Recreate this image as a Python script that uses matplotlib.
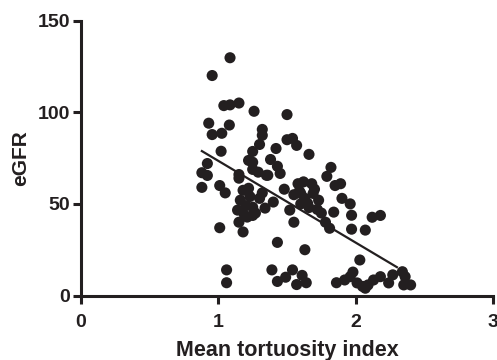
import matplotlib
matplotlib.use("Agg")
import matplotlib.pyplot as plt

tortuosity = [
    1.085, 0.955, 1.04, 1.085, 1.15, 0.93, 1.08, 0.955, 1.025, 1.02, 0.92, 0.88,
    1.26, 1.50, 1.32, 1.32, 1.30, 1.42, 1.25, 1.50, 1.54, 1.57, 1.66, 1.22, 1.38,
    1.43, 1.45, 1.82, 1.79, 1.25, 1.15, 1.35,
    0.92, 0.88, 1.05, 1.01, 1.06, 1.06, 1.15, 1.18, 1.22, 1.16, 1.14, 1.15, 1.18,
    1.21, 1.25, 1.30, 1.34, 1.40, 1.25, 1.36, 1.25, 1.29, 1.43, 1.39, 1.43, 1.49,
    1.54, 1.57, 1.61, 1.64, 1.63, 1.52, 1.55, 1.58, 1.62, 1.68, 1.60, 1.63, 1.65,
    1.69, 1.73, 1.75, 1.78, 1.81, 1.84, 1.85, 1.89, 1.90, 1.96, 1.97, 1.97, 2.07,
    2.12, 2.18, 2.03, 1.98, 1.86, 1.92, 1.96, 2.01, 2.05, 2.09, 2.13, 2.18, 2.24,
    2.27, 2.34, 2.36, 2.35, 2.40, 2.07,
    1.59, 1.60, 1.66, 1.70, 1.72, 1.55, 1.20, 1.27, 1.32, 1.19, 1.23, 1.48, 1.01,
]
egfr = [
    129.7, 120, 103.6, 104, 105, 94, 93, 87.8, 88.5, 78.7, 72, 67,
    100.5, 98.7, 90.6, 87.4, 82.4, 80.2, 78.6, 85, 85.7, 81.9, 77, 73.7, 74.2,
    70.5, 66.6, 69.9, 65, 68.8, 66, 65.6,
    65.5, 59, 56, 37, 14, 7, 64, 57.4, 58.5, 52, 46.6, 40, 34.7,
    42.8, 48.2, 53, 47.7, 51, 43.7, 65.6, 72.7, 67.3, 29, 14, 7.7, 10,
    14, 6, 11, 7, 25, 46.6, 40, 61, 62, 61, 55.7, 53, 50.3,
    55.7, 52, 45, 40, 36.7, 45.5, 60, 61, 53, 50, 43.8, 36.2, 35.7,
    42.7, 43.7, 19.4, 12.8, 7, 8.5, 10.3, 6.9, 5, 5.8, 8.5, 10.3, 6.9,
    11.3, 13, 10.3, 5.8, 5.8, 4,
    57, 50, 48, 58, 47, 55, 49, 45, 56, 44, 54, 58, 60,
]

fit_x = [0.88, 2.30]
fit_y = [78.8, 15.5]

x_ticks = [0, 1, 2, 3]
y_ticks = [0, 50, 100, 150]

col = "#231f20"
plt.rcParams["font.family"] = ["Liberation Sans", "DejaVu Sans"]
plt.rcParams["font.weight"] = "bold"

fig = plt.figure(figsize=(4.97, 3.60), dpi=100)
ax = fig.add_axes([0.163, 0.179, 0.829, 0.764])
ax.scatter(tortuosity, egfr, s=64, color=col, edgecolors="none", zorder=3, clip_on=False)
ax.plot(fit_x, fit_y, color=col, lw=1.6, zorder=4)

ax.set_xlim(0, 3)
ax.set_ylim(0, 150)
ax.set_xticks(x_ticks)
ax.set_yticks(y_ticks)
ax.set_xticklabels([str(t) for t in x_ticks], fontsize=14, fontweight="bold", color=col)
ax.set_yticklabels([str(t) for t in y_ticks], fontsize=14, fontweight="bold", color=col)
for s in ["top", "right"]:
    ax.spines[s].set_visible(False)
for s in ["left", "bottom"]:
    ax.spines[s].set_linewidth(2.2)
    ax.spines[s].set_color(col)
ax.tick_params(axis="y", length=6, width=2.2, color=col, pad=2)
ax.tick_params(axis="x", length=6, width=2.2, color=col, pad=7)
ax.set_xlabel("Mean tortuosity index", fontsize=15.5, fontweight="bold", color=col, labelpad=7)
ax.set_ylabel("eGFR", fontsize=15, fontweight="bold", color=col, labelpad=5)

fig.savefig("out.png", dpi=100)
